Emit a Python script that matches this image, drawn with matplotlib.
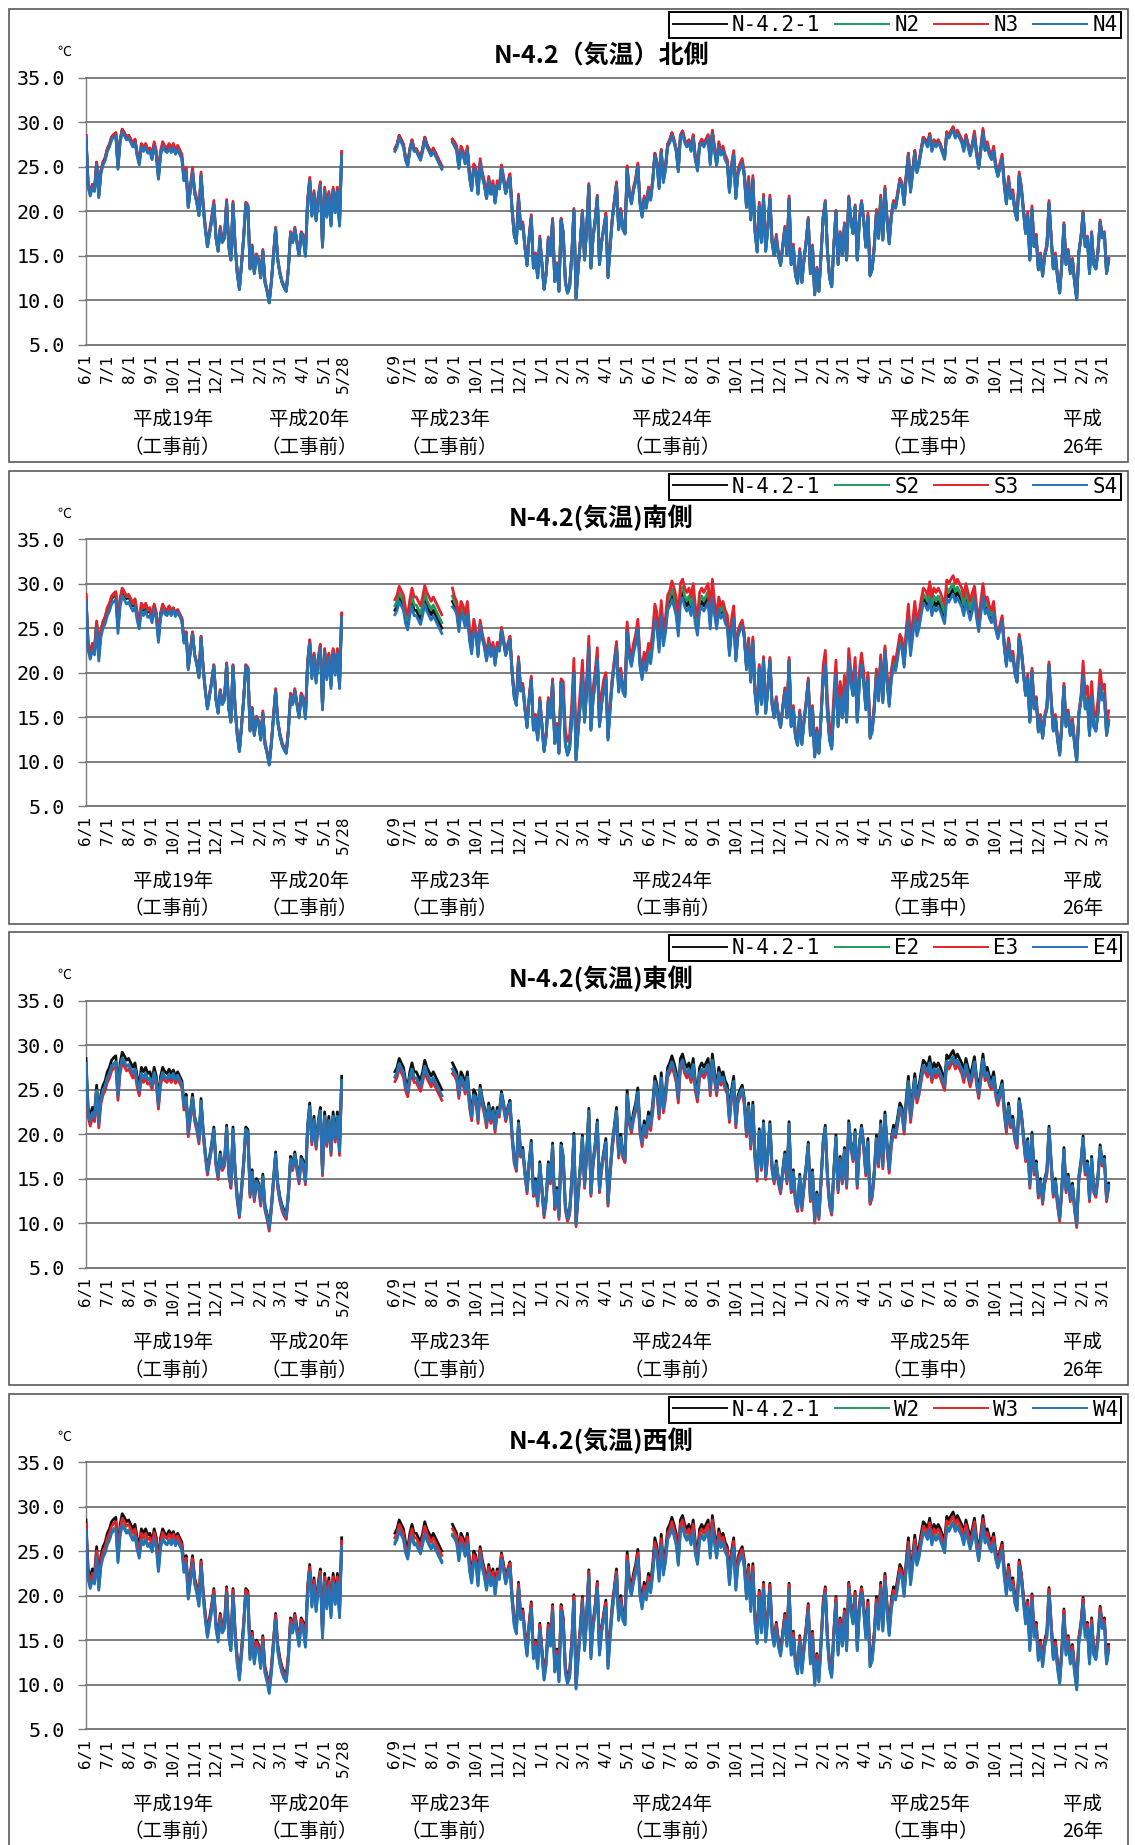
import numpy as np
import pandas as pd
import matplotlib
matplotlib.use("Agg")
import matplotlib.pyplot as plt
from matplotlib.patches import Rectangle
from matplotlib.transforms import blended_transform_factory

plt.rcParams['font.family'] = ['Noto Sans CJK JP', 'DejaVu Sans']

# ----------------------------- #
# データ（N-4.2-1 気温, 3日おき）
# ----------------------------- #
# 平成19年6/1 から 平成20年5/28 まで
kion_h19 = [
    28.5, 23.0, 22.0, 23.0, 22.5, 25.5, 21.8, 24.5, 25.5, 26.0,
    27.0, 27.5, 28.3, 28.6, 28.8, 25.0, 28.0, 29.2, 28.8, 28.3,
    28.5, 28.0, 27.5, 28.0, 26.5, 25.5, 27.5, 27.0, 27.5, 26.8,
    27.0, 26.0, 27.5, 26.5, 23.8, 26.5, 27.5, 27.0, 26.8, 27.3,
    26.8, 27.2, 26.5, 27.0, 26.5, 26.0, 23.5, 24.5, 20.5, 22.5,
    24.5, 22.0, 21.0, 19.5, 24.0, 20.5, 18.0, 16.0, 17.5, 19.0,
    20.8, 17.0, 15.5, 18.0, 16.5, 17.0, 21.0, 16.0, 14.5, 20.8,
    16.0, 13.0, 11.2, 14.0, 17.0, 20.8, 20.5, 13.5, 16.0, 13.0,
    15.0, 14.5, 12.5, 15.5, 12.0, 11.0, 9.7, 12.0, 15.0, 18.0,
    14.5, 13.0, 12.0, 11.4, 11.0, 13.5, 17.5, 16.5, 18.0, 16.5,
    15.0, 17.5, 17.0, 15.0, 21.0, 23.5, 19.5, 22.0, 19.0, 21.5,
    23.0, 16.0, 22.5, 19.5, 22.0, 18.5, 22.5, 20.0, 22.5, 18.5,
    26.5,
]

# 平成23年6/9 から 平成26年3/10 まで（8月中旬は欠測）
nan = np.nan
kion_h23 = [
    27.0, 27.5, 28.5, 28.0, 27.5, 26.0, 25.3, 27.0, 28.0, 27.0,
    27.0, 26.5, 26.0, 27.0, 28.3, 27.5, 27.0, 26.5, 27.0, 26.5,
    26.0, 25.5, 25.0, nan, nan, nan, nan, 28.0, 27.5, 27.0,
    25.0, 27.0, 26.5, 25.5, 27.0, 24.0, 22.5, 25.0, 24.5, 22.0,
    25.5, 24.0, 23.0, 21.5, 23.5, 22.0, 23.0, 21.0, 23.0, 22.5,
    24.8, 23.5, 22.0, 23.0, 23.8, 20.0, 17.3, 16.4, 21.5, 18.0,
    18.5, 16.0, 13.9, 17.0, 19.3, 13.6, 15.0, 12.5, 16.9, 14.0,
    11.2, 13.0, 16.9, 15.0, 19.0, 12.1, 14.0, 11.0, 19.0, 17.5,
    12.0, 10.8, 11.5, 15.0, 20.1, 10.2, 13.5, 16.5, 19.9, 14.5,
    18.0, 22.9, 13.6, 17.0, 19.0, 21.6, 14.0, 16.5, 18.0, 19.5,
    12.6, 16.0, 19.0, 21.0, 23.0, 18.0, 20.0, 18.0, 17.5, 24.9,
    22.0, 21.0, 22.5, 23.5, 25.2, 21.0, 19.5, 21.5, 20.5, 22.5,
    21.5, 23.5, 26.5, 25.5, 22.8, 26.9, 23.5, 25.0, 27.5, 28.0,
    28.8, 28.0, 27.0, 24.7, 28.5, 29.0, 28.0, 27.5, 28.0, 27.0,
    28.5, 26.0, 24.8, 27.5, 28.0, 27.5, 28.0, 28.5, 25.5, 29.0,
    27.0, 25.3, 27.5, 26.5, 27.0, 26.0, 25.5, 22.3, 25.0, 26.5,
    21.5, 24.3, 25.0, 25.5, 24.0, 20.5, 23.5, 19.1, 23.6, 17.8,
    15.5, 20.6, 16.5, 21.5, 15.5, 18.0, 21.4, 16.5, 15.0, 17.0,
    15.0, 13.9, 16.0, 18.0, 15.0, 21.4, 14.0, 16.0, 12.8, 11.9,
    15.5, 12.0, 14.5, 16.5, 19.1, 13.0, 16.0, 10.6, 13.5, 11.0,
    15.0, 19.3, 21.0, 15.5, 12.5, 11.5, 16.0, 19.9, 14.0, 17.5,
    15.0, 18.5, 14.5, 21.5, 19.0, 17.5, 20.5, 14.5, 19.0, 21.0,
    19.0, 16.0, 19.5, 12.8, 13.5, 16.0, 19.9, 17.0, 21.5, 16.8,
    22.5, 19.0, 16.5, 19.5, 21.0, 20.5, 22.0, 23.5, 23.0, 20.9,
    24.0, 26.5, 22.4, 24.5, 26.8, 24.6, 25.5, 27.0, 28.3, 28.0,
    27.5, 28.7, 27.0, 28.0, 27.5, 28.0, 27.5, 26.8, 26.1, 28.9,
    28.5, 29.0, 29.4, 28.5, 29.0, 28.5, 28.0, 27.0, 28.5, 27.5,
    26.5, 27.5, 28.7, 26.5, 25.0, 27.0, 29.0, 27.0, 27.5, 26.5,
    26.0, 27.0, 25.0, 24.0, 25.0, 26.0, 23.0, 20.9, 23.5, 21.5,
    22.0, 20.0, 19.0, 24.0, 22.5, 20.0, 17.5, 19.5, 14.5, 20.2,
    16.0, 17.0, 13.4, 15.0, 12.7, 15.0, 16.0, 20.9, 17.0, 13.5,
    15.0, 12.5, 10.8, 14.0, 18.5, 14.0, 15.5, 13.0, 14.5, 12.0,
    10.1, 15.3, 17.0, 19.8, 16.0, 17.0, 13.0, 17.5, 14.0, 13.5,
    15.5, 18.8, 17.0, 17.5, 13.0, 14.5,
]

# 各測点と N-4.2-1 との差（1月〜12月）
N2 = [0.0, 0.0, 0.0, 0.0, -0.1, -0.2, -0.2, -0.2, -0.2, -0.1, 0.0, 0.0]
N3 = [0.2, 0.2, 0.2, 0.3, 0.2, 0.0, 0.0, 0.1, 0.3, 0.4, 0.4, 0.3]
N4 = [0.0, 0.0, 0.0, -0.1, -0.2, -0.3, -0.3, -0.3, -0.2, -0.1, 0.0, 0.0]

S2_h19 = [0.0, 0.0, 0.0, 0.1, 0.1, 0.2, 0.2, 0.2, 0.1, 0.0, 0.0, 0.0]
S3_h19 = [0.1, 0.2, 0.2, 0.2, 0.2, 0.3, 0.3, 0.3, 0.2, 0.1, 0.1, 0.1]
S2 = [0.0, 0.2, 0.2, 0.2, 0.4, 0.5, 0.6, 0.6, 0.4, 0.1, 0.0, 0.0]
S3 = [0.3, 1.5, 1.2, 0.5, 0.8, 1.2, 1.5, 1.5, 1.0, 0.4, 0.3, 0.3]
S4 = [-0.1, -0.1, -0.1, -0.2, -0.3, -0.5, -0.6, -0.6, -0.4, -0.2, -0.1, -0.1]

E2 = [-0.3, -0.3, -0.3, -0.4, -0.5, -0.6, -0.7, -0.7, -0.6, -0.4, -0.3, -0.3]
E3 = [-0.6, -0.6, -0.6, -0.7, -0.9, -1.1, -1.2, -1.2, -1.0, -0.8, -0.6, -0.6]
E4 = [-0.3, -0.3, -0.3, -0.4, -0.5, -0.6, -0.7, -0.7, -0.6, -0.4, -0.3, -0.3]

W2 = [-0.6, -0.6, -0.6, -0.7, -0.8, -1.0, -1.1, -1.1, -1.0, -0.8, -0.6, -0.6]
W3 = [-0.2, -0.2, -0.2, -0.3, -0.4, -0.5, -0.5, -0.5, -0.4, -0.3, -0.2, -0.2]
W4 = [-0.7, -0.7, -0.7, -0.8, -1.0, -1.2, -1.3, -1.3, -1.1, -0.9, -0.7, -0.7]

titles = ["N-4.2（気温）北側", "N-4.2(気温)南側", "N-4.2(気温)東側", "N-4.2(気温)西側"]
series_names = [["N2", "N3", "N4"], ["S2", "S3", "S4"], ["E2", "E3", "E4"], ["W2", "W3", "W4"]]
# (平成19-20年の差, 平成23-26年の差)
series_diffs = [
    [(N2, N2), (N3, N3), (N4, N4)],
    [(S2_h19, S2), (S3_h19, S3), (S4, S4)],
    [(E2, E2), (E3, E3), (E4, E4)],
    [(W2, W2), (W3, W3), (W4, W4)],
]

nendo = ["平成19年", "平成20年", "平成23年", "平成24年", "平成25年", "平成"]
kubun = ["（工事前）", "（工事前）", "（工事前）", "（工事前）", "（工事中）", "26年"]
nendo_x = [122, 314, 512, 825, 1189, 1403]

colors = ["#111111", "#1f9a5e", "#e3222b", "#2572b6"]

# ----------------------------- #
# 横軸（日数）
# ----------------------------- #
step = 3
start_h19 = pd.Timestamp("2007-06-01")
start_h23 = pd.Timestamp("2011-06-09")
gap_days = 435  # H23 系列を置く位置

da = np.arange(len(kion_h19)) * step
db = np.arange(len(kion_h23)) * step
x = np.concatenate([da, [np.nan], gap_days + db])
mon_a = (start_h19 + pd.to_timedelta(da, "D")).month.values - 1
mon_b = (start_h23 + pd.to_timedelta(db, "D")).month.values - 1
base = np.concatenate([kion_h19, [np.nan], kion_h23])


def sensor(d19, d23):
    diff = np.concatenate([np.array(d19)[mon_a], [0.0], np.array(d23)[mon_b]])
    return base + diff


tick_dates_a = list(pd.date_range("2007-06-01", "2008-05-01", freq="MS")) + [pd.Timestamp("2008-05-28")]
tick_dates_b = [start_h23] + list(pd.date_range("2011-07-01", "2014-03-01", freq="MS"))
tick_pos = [(d - start_h19).days for d in tick_dates_a] + [gap_days + (d - start_h23).days for d in tick_dates_b]
tick_lab = [f"{d.month}/{d.day}" for d in tick_dates_a + tick_dates_b]

# ----------------------------- #
# 描画
# ----------------------------- #
W, H = 1135, 1845
fig = plt.figure(figsize=(W / 100, H / 100), dpi=100)
fig.patch.set_facecolor("white")
pitch = 461.5
grid_c = "#7d7d7d"

for k in range(4):
    top = 77.6 + pitch * k
    bot = 344.6 + pitch * k
    ax = fig.add_axes([86 / W, 1 - bot / H, 1039 / W, (bot - top) / H])

    # 枠
    fig.patches.append(Rectangle((9 / W, 1 - (462 + pitch * k) / H), 1119 / W, 452.6 / H,
                                 transform=fig.transFigure, fill=False,
                                 ec="#5a5a5a", lw=1.2))

    names = ["N-4.2-1"] + series_names[k]
    values = [base] + [sensor(d19, d23) for d19, d23 in series_diffs[k]]
    for i, (nm, v) in enumerate(zip(names, values)):
        ax.plot(x, v, color=colors[i], lw=2.0, label=nm, zorder=3 + i)

    ax.set_xlim(0, 1463)
    ax.set_ylim(5, 35)
    ax.set_yticks(np.arange(5, 36, 5))
    ax.set_yticklabels([f"{t:.1f}" for t in np.arange(5, 36, 5)],
                       fontfamily="DejaVu Sans Mono", fontsize=14.5)
    ax.set_xticks(tick_pos)
    ax.set_xticklabels(tick_lab, rotation=90, fontfamily="DejaVu Sans Mono", fontsize=11.5)
    ax.tick_params(axis="x", length=0, pad=7)
    ax.tick_params(axis="y", length=6, width=1, color=grid_c, pad=9)

    ax.yaxis.grid(True, color=grid_c, lw=1.4)
    for gl in ax.get_ygridlines():
        gl.set_clip_on(False)
    ax.set_axisbelow(True)
    for s in ["top", "right"]:
        ax.spines[s].set_visible(False)
    ax.spines["left"].set_color(grid_c)
    ax.spines["left"].set_linewidth(1.0)
    ax.spines["bottom"].set_color(grid_c)
    ax.spines["bottom"].set_linewidth(1.4)

    ax.text(0.496, 1.08, titles[k], transform=ax.transAxes, ha="center", va="center",
            fontsize=18, fontweight="bold")
    ax.text(-0.021, 1.096, "℃", transform=ax.transAxes, ha="center", va="center", fontsize=10)

    trans = blended_transform_factory(ax.transData, ax.transAxes)
    for xp, t1, t2 in zip(nendo_x, nendo, kubun):
        ax.text(xp, -0.282, t1, transform=trans, ha="center", va="center", fontsize=14)
        ax.text(xp, -0.384, t2, transform=trans, ha="center", va="center", fontsize=14)

    leg = ax.legend(loc="upper right", bbox_to_anchor=(1121 / W, 1 - (12 + pitch * k) / H),
                    bbox_transform=fig.transFigure, ncol=4, frameon=True, fancybox=False,
                    edgecolor="black", framealpha=1, borderpad=0.15, handlelength=2.6,
                    handletextpad=0.25, columnspacing=0.7, borderaxespad=0,
                    prop={"family": "DejaVu Sans Mono", "size": 15})
    leg.get_frame().set_linewidth(1.4)
    for ln in leg.get_lines():
        ln.set_linewidth(1.4)

fig.savefig("out.png", dpi=100, facecolor="white")
